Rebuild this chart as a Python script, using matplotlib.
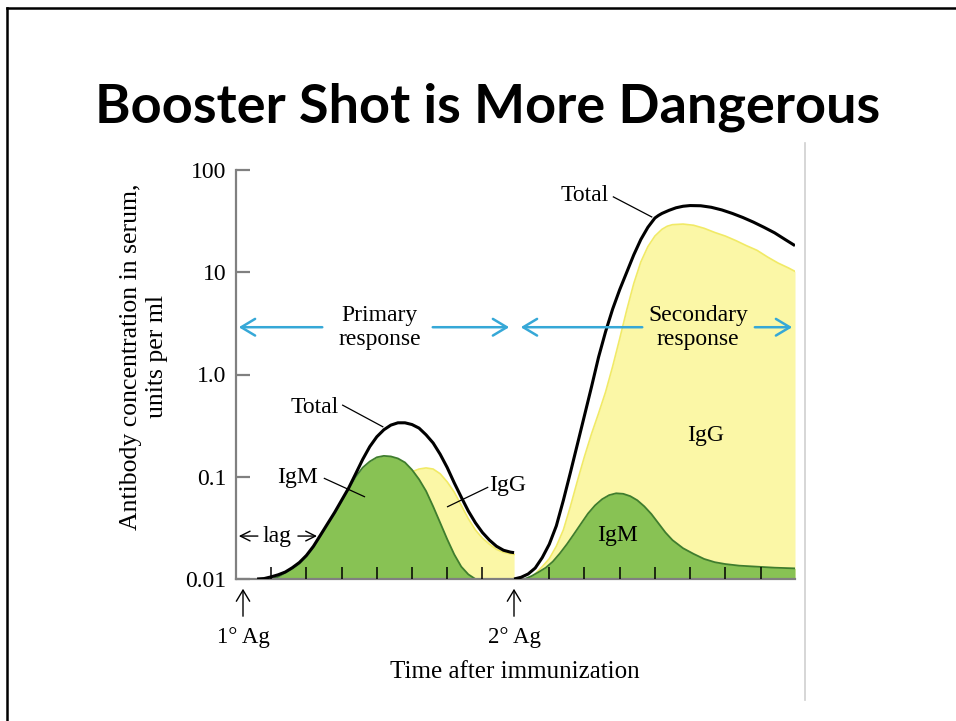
import matplotlib
matplotlib.use("Agg")
import matplotlib.pyplot as plt
from matplotlib.ticker import NullLocator

W, H = 956, 721

# --- data (x in tick units, y in units per ml) ---
prim_x = [0.6, 0.8, 1.0, 1.2, 1.4, 1.6, 1.8, 2.0, 2.2, 2.4, 2.6, 2.8, 3.0, 3.2, 3.4, 3.6, 3.8, 4.0, 4.2,
          4.4, 4.6, 4.8, 5.0, 5.2, 5.4, 5.6, 5.8, 6.0, 6.2, 6.4, 6.6, 6.8, 7.0, 7.2, 7.4, 7.6, 7.8, 7.9]
prim_total = [0.0100, 0.0101, 0.0105, 0.0110, 0.0117, 0.0129, 0.0145, 0.0170, 0.0209, 0.0269, 0.0347,
              0.0447, 0.0589, 0.0776, 0.107, 0.148, 0.197, 0.246, 0.288, 0.320, 0.337, 0.337, 0.324,
              0.299, 0.257, 0.214, 0.166, 0.123, 0.0871, 0.0631, 0.0462, 0.0355, 0.0285, 0.0240,
              0.0209, 0.0191, 0.0183, 0.0181]

prim_igm_x = [1.0, 1.2, 1.4, 1.6, 1.8, 2.0, 2.2, 2.4, 2.6, 2.8, 3.0, 3.2, 3.4, 3.6, 3.8, 4.0, 4.2, 4.4,
              4.6, 4.8, 5.0, 5.2, 5.4, 5.6, 5.8, 6.0, 6.2, 6.4, 6.6, 6.8]
prim_igm = [0.0100, 0.0105, 0.0115, 0.0126, 0.0141, 0.0166, 0.0204, 0.0263, 0.0339, 0.0437, 0.0575,
            0.0759, 0.100, 0.123, 0.141, 0.155, 0.160, 0.158, 0.151, 0.138, 0.117, 0.0944, 0.0724,
            0.0513, 0.0355, 0.0245, 0.0174, 0.0132, 0.0111, 0.0100]

prim_igg_x = [3.6, 3.8, 4.0, 4.2, 4.4, 4.6, 4.8, 5.0, 5.2, 5.4, 5.6, 5.8, 6.0, 6.2, 6.4, 6.6, 6.8, 7.0,
              7.2, 7.4, 7.6, 7.8, 7.9]
prim_igg = [0.0178, 0.0269, 0.0398, 0.0550, 0.0708, 0.0871, 0.100, 0.112, 0.119, 0.122, 0.119, 0.107,
            0.0891, 0.0708, 0.0525, 0.0389, 0.0302, 0.0251, 0.0219, 0.0195, 0.0182, 0.0176, 0.0174]

sec_x = [7.9, 8.1, 8.3, 8.5, 8.7, 8.9, 9.1, 9.3, 9.5, 9.7, 9.9, 10.1, 10.3, 10.5, 10.7, 10.9, 11.1,
         11.3, 11.5, 11.7, 11.9, 12.0, 12.1, 12.3, 12.5, 12.7, 12.9, 13.2, 13.5, 13.8, 14.1, 14.4,
         14.7, 15.0, 15.3, 15.6, 15.88]
sec_total = [0.0100, 0.0104, 0.0112, 0.0128, 0.0162, 0.0219, 0.0331, 0.0589, 0.110, 0.209, 0.398,
             0.759, 1.48, 2.63, 4.37, 6.76, 10.0, 14.8, 20.9, 27.5, 33.9, 35.9, 37.6, 40.3, 42.7,
             44.2, 44.9, 44.7, 43.2, 40.7, 37.6, 34.3, 30.9, 27.5, 24.3, 20.9, 18.2]

sec_igg_x = [8.3, 8.5, 8.7, 8.9, 9.1, 9.3, 9.5, 9.7, 9.9, 10.1, 10.3, 10.5, 10.7, 10.9, 11.1, 11.3,
             11.5, 11.7, 11.9, 12.1, 12.25, 12.4, 12.7, 13.0, 13.3, 13.6, 13.9, 14.2, 14.5, 14.8,
             15.1, 15.4, 15.7, 15.88]
sec_igg = [0.0100, 0.0112, 0.0132, 0.0158, 0.0209, 0.0302, 0.0513, 0.0912, 0.158, 0.263, 0.417,
           0.676, 1.20, 2.24, 4.27, 7.76, 12.6, 17.8, 22.6, 26.3, 28.2, 29.2, 29.6, 28.8, 26.9, 24.5,
           22.6, 20.4, 18.2, 16.4, 14.1, 12.3, 11.0, 10.2]

sec_igm_x = [8.2, 8.4, 8.6, 8.8, 9.0, 9.2, 9.4, 9.6, 9.8, 10.0, 10.2, 10.4, 10.6, 10.8, 11.0, 11.2,
             11.4, 11.6, 11.8, 12.0, 12.2, 12.4, 12.7, 13.0, 13.3, 13.6, 13.9, 14.3, 14.8, 15.3, 15.88]
sec_igm = [0.0100, 0.0107, 0.0117, 0.0129, 0.0148, 0.0178, 0.0219, 0.0275, 0.0347, 0.0437, 0.0525,
           0.0603, 0.0661, 0.0689, 0.0681, 0.0646, 0.0589, 0.0513, 0.0432, 0.0351, 0.0285, 0.0240,
           0.0200, 0.0176, 0.0157, 0.0146, 0.0140, 0.0135, 0.0132, 0.0129, 0.0127]

prim_ticks = [1, 2, 3, 4, 5, 6, 7]
sec_ticks = [8.9, 9.9, 10.9, 11.9, 12.9, 13.9, 14.9]
y_ticks = [0.01, 0.1, 1, 10, 100]
y_labels = ["0.01", "0.1", "1.0", "10", "100"]

GREEN = "#88c254"
GREEN_EDGE = "#3f7d2e"
YELLOW = "#fbf7a6"
YELLOW_EDGE = "#f1ea66"
BLUE = "#36a8d7"
GRAY = "#808080"
SERIF = "Liberation Serif"


def fx(px):
    return px / W


def fy(py):
    return 1 - py / H


fig = plt.figure(figsize=(W / 100, H / 100), dpi=100)

# slide frame
fig.add_artist(plt.Line2D([fx(7), fx(7)], [0, fy(8)], color="black", lw=1.8))
fig.add_artist(plt.Line2D([fx(7), 1], [fy(8), fy(8)], color="black", lw=1.8))
fig.add_artist(plt.Line2D([fx(805), fx(805)], [fy(143), fy(700)], color="#cfcfcf", lw=1.2))

fig.text(fx(488), fy(123), "Booster Shot is More Dangerous", family="Lato", weight="bold",
         fontsize=39, ha="center", va="baseline")

ax = fig.add_axes([fx(236), fy(579), (795 - 236) / W, (579 - 170) / H])
ax.set_yscale("log")
ax.set_xlim(0, 15.88)
ax.set_ylim(0.01, 100)
ax.set_axisbelow(False)

# primary response
ax.fill_between(prim_igg_x, 0.01, prim_igg, color=YELLOW, lw=0, zorder=1)
ax.plot(prim_igg_x, prim_igg, color=YELLOW_EDGE, lw=1.2, zorder=1.1)
ax.fill_between(prim_igm_x, 0.01, prim_igm, color=GREEN, lw=0, zorder=1.2)
ax.plot(prim_igm_x, prim_igm, color=GREEN_EDGE, lw=1.3, zorder=1.3)
ax.plot(prim_x, prim_total, color="black", lw=2.2, zorder=3, solid_capstyle="butt")

# secondary response
ax.fill_between(sec_igg_x, 0.01, sec_igg, color=YELLOW, lw=0, zorder=1)
ax.plot(sec_igg_x, sec_igg, color=YELLOW_EDGE, lw=1.2, zorder=1.1)
ax.fill_between(sec_igm_x, 0.01, sec_igm, color=GREEN, lw=0, zorder=1.2)
ax.plot(sec_igm_x, sec_igm, color=GREEN_EDGE, lw=1.3, zorder=1.3)
ax.plot(sec_x, sec_total, color="black", lw=2.2, zorder=3, solid_capstyle="butt")

# axes styling
for s in ["top", "right"]:
    ax.spines[s].set_visible(False)
for s in ["left", "bottom"]:
    ax.spines[s].set_color(GRAY)
    ax.spines[s].set_linewidth(1.6)
ax.set_yticks(y_ticks)
ax.set_yticklabels(y_labels, family=SERIF, fontsize=17)
ax.yaxis.set_minor_locator(NullLocator())
ax.tick_params(axis="y", direction="in", length=10, width=1.6, color=GRAY, pad=7)
ax.set_xticks(prim_ticks + sec_ticks)
ax.set_xticklabels([])
ax.tick_params(axis="x", direction="in", length=9, width=1.1, color="black")

# blue response arrows
arr = dict(arrowstyle="->,head_length=0.5,head_width=0.3", color=BLUE, lw=1.8, mutation_scale=20)
ya = 2.9
for start, end in [(2.53, 0.0), (5.51, 7.84), (11.62, 8.01), (14.66, 15.88)]:
    ax.annotate("", xy=(end, ya), xytext=(start, ya), arrowprops=arr, annotation_clip=False)
ax.text(4.09, ya, "Primary\nresponse", family=SERIF, fontsize=17, ha="center", va="center",
        linespacing=1.2)
ax.text(13.13, ya, "Secondary\nresponse", family=SERIF, fontsize=17, ha="center", va="center",
        linespacing=1.2)

# labels with leader lines
lab = dict(family=SERIF, fontsize=17, va="center")
ax.text(2.92, 10 ** (1.68 - 2), "Total", ha="right", **lab)
ax.plot([3.03, 4.17], [10 ** (1.70 - 2), 10 ** (1.489 - 2)], color="black", lw=0.9, zorder=4)
ax.text(2.33, 10 ** (0.99 - 2), "IgM", ha="right", **lab)
ax.plot([2.51, 3.65], [10 ** (0.984 - 2), 10 ** (0.805 - 2)], color="black", lw=0.9, zorder=4)
ax.text(7.2, 10 ** (0.91 - 2), "IgG", ha="left", **lab)
ax.plot([7.15, 6.01], [10 ** (0.896 - 2), 10 ** (0.707 - 2)], color="black", lw=0.9, zorder=4)
ax.text(10.58, 10 ** (3.755 - 2), "Total", ha="right", **lab)
ax.plot([10.72, 11.81], [10 ** (3.737 - 2), 10 ** (3.541 - 2)], color="black", lw=0.9, zorder=4)
ax.text(13.35, 10 ** (1.40 - 2), "IgG", ha="center", **lab)
ax.text(10.84, 10 ** (0.43 - 2), "IgM", ha="center", **lab)

# lag
ylag = 10 ** (0.42 - 2)
ax.text(1.17, ylag, "lag", ha="center", **lab)
small = dict(arrowstyle="->,head_length=0.5,head_width=0.25", color="black", lw=1.0, mutation_scale=14)
ax.annotate("", xy=(0.0, ylag), xytext=(0.7, ylag), arrowprops=small, annotation_clip=False)
ax.annotate("", xy=(2.38, ylag), xytext=(1.68, ylag), arrowprops=small, annotation_clip=False)

# antigen arrows and x label
for px, txt in [(243, "1° Ag"), (514, "2° Ag")]:
    fig.add_artist(matplotlib.patches.FancyArrowPatch((fx(px), fy(619)), (fx(px), fy(586)),
                   transform=fig.transFigure, arrowstyle="->,head_length=0.5,head_width=0.3",
                   mutation_scale=16, color="black", lw=1.0))
    fig.text(fx(px), fy(637), txt, family=SERIF, fontsize=16.5, ha="center", va="center")

fig.text(fx(515), fy(672), "Time after immunization", family=SERIF, fontsize=18, ha="center",
         va="center")
fig.text(fx(144), fy(357), "Antibody concentration in serum,\nunits per ml", family=SERIF,
         fontsize=18.5, ha="center", va="center", rotation=90, linespacing=1.25)

fig.savefig("out.png", dpi=100)
